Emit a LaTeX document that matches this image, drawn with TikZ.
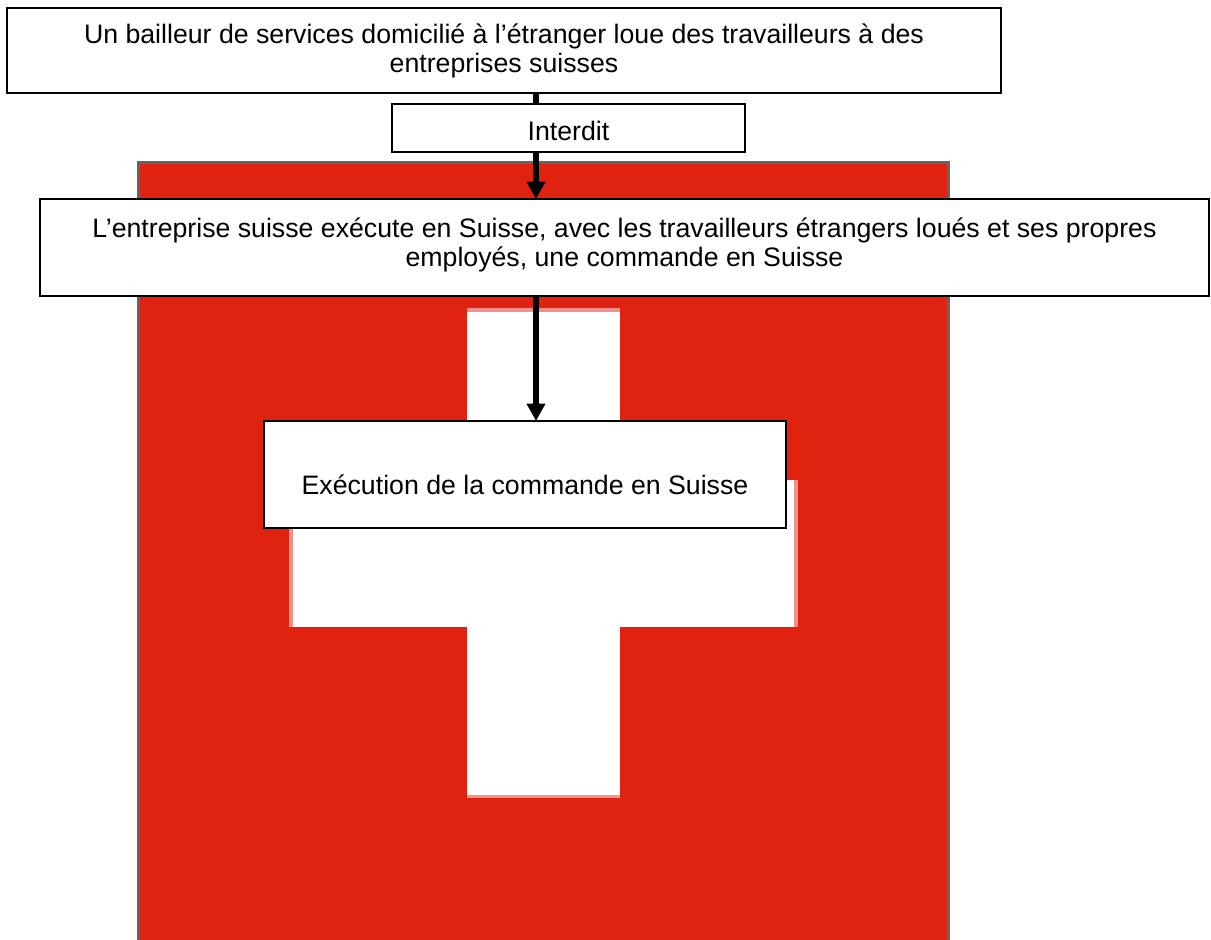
\documentclass[tikz,border=0pt]{standalone}
\usepackage{fontspec}
\setmainfont{Liberation Sans}
\usetikzlibrary{arrows.meta}
\definecolor{swissred}{RGB}{224,35,17}
\definecolor{pinkedge}{RGB}{240,145,138}
\definecolor{flagedge}{RGB}{100,100,100}
\newcommand{\boxtext}[3]{\raisebox{#1}[0pt][0pt]{\parbox[c]{#2}{\centering\fontsize{26.7pt}{29pt}\selectfont #3}}}
\tikzset{
  textbox/.style={draw=black,line width=2.2pt,fill=white,inner sep=0pt,outer sep=0pt,anchor=north west},
  link/.style={draw=black,line width=5.5pt},
  linkarrow/.style={link,-{Triangle[length=17.5pt,width=18pt]}},
}
\begin{document}
\begin{tikzpicture}[x=1pt,y=-1pt]
\useasboundingbox (0,0) rectangle (1211,940);
\fill[white] (0,0) rectangle (1211,940);
% flag
\fill[flagedge] (137,161) rectangle (950,940);
\fill[swissred] (140,164) rectangle (947,940);
% cross
\fill[pinkedge] (467,308) rectangle (620,798);
\fill[pinkedge] (289,480) rectangle (798,627);
\fill[white] (467,312) rectangle (620,795);
\fill[white] (293,480) rectangle (794,627);
% boxes
\coordinate (axis) at (536,0);
\node[textbox,minimum width=994pt,minimum height=85pt] (top) at (7,8) {\boxtext{-3pt}{980pt}{Un bailleur de services domicilié à l’étranger loue des travailleurs à des\\entreprises suisses}};
\node[textbox,minimum width=353pt,minimum height=48pt] (ban) at (392,104) {\boxtext{-5pt}{340pt}{Interdit}};
\node[textbox,minimum width=1169pt,minimum height=97pt] (swiss) at (40,199) {\boxtext{0pt}{1150pt}{L’entreprise suisse exécute en Suisse, avec les travailleurs étrangers loués et ses propres\\employés, une commande en Suisse}};
\node[textbox,minimum width=522pt,minimum height=107pt] (run) at (264,421) {\boxtext{-13pt}{510pt}{Exécution de la commande en Suisse}};
% connectors
\draw[link] (top.south -| axis) -- (ban.north -| axis);
\draw[linkarrow] (ban.south -| axis) -- (swiss.north -| axis);
\draw[linkarrow] (swiss.south -| axis) -- (run.north -| axis);
\end{tikzpicture}
\end{document}
